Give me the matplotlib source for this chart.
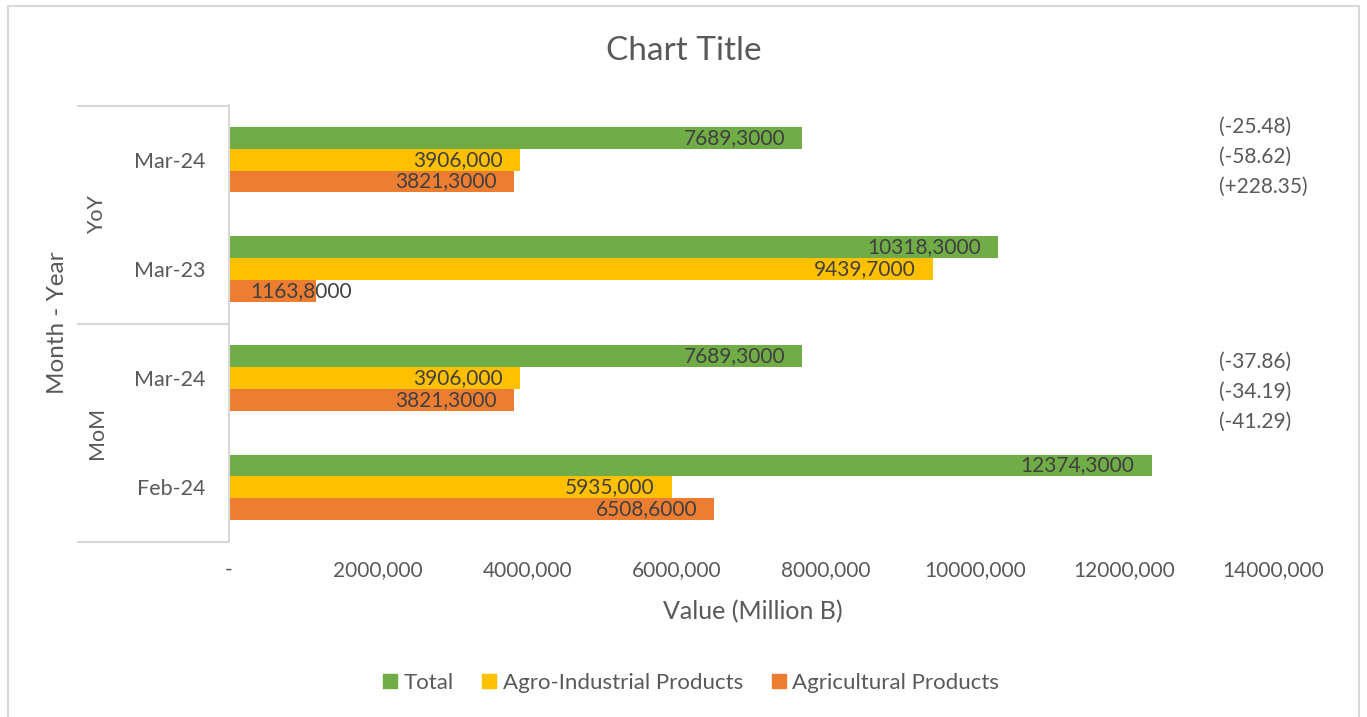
import matplotlib.pyplot as plt
from matplotlib.lines import Line2D
from matplotlib.patches import Patch

plt.rcParams['font.family'] = ['Lato', 'DejaVu Sans']

W, H = 1367, 717

# categories, bottom to top
categories = ['Feb-24', 'Mar-24', 'Mar-23', 'Mar-24']
groups = ['MoM', 'YoY']

total = [12374.3, 7689.3, 10318.3, 7689.3]
agro = [5935.0, 3906.0, 9439.7, 3906.0]
agri = [6508.6, 3821.3, 1163.8, 3821.3]

total_lbl = ['12374,3000', '7689,3000', '10318,3000', '7689,3000']
agro_lbl = ['5935,000', '3906,000', '9439,7000', '3906,000']
agri_lbl = ['6508,6000', '3821,3000', '1163,8000', '3821,3000']

xticks = [0, 2000, 4000, 6000, 8000, 10000, 12000, 14000]
xtick_lbl = ['-', '2000,000', '4000,000', '6000,000', '8000,000',
             '10000,000', '12000,000', '14000,000']

yoy_change = ['(-25.48)', '(-58.62)', '(+228.35)']
mom_change = ['(-37.86)', '(-34.19)', '(-41.29)']

c_total = '#70AD47'
c_agro = '#FFC000'
c_agri = '#ED7D31'
txt = '#595959'
lab = '#404040'
grey = '#D9D9D9'


def fx(x):
    return x / W


def fy(y):
    return 1 - y / H


fig = plt.figure(figsize=(W / 100, H / 100), dpi=100)
ax = fig.add_axes([fx(229), fy(542), fx(1273) - fx(229), fy(105) - fy(542)])

idx = list(range(len(categories)))
bh = 0.2
series = [(total, total_lbl, c_total, bh, 'Total'),
          (agro, agro_lbl, c_agro, 0, 'Agro-Industrial Products'),
          (agri, agri_lbl, c_agri, -bh, 'Agricultural Products')]

for vals, lbls, col, off, name in series:
    ys = [i + off for i in idx]
    ax.barh(ys, vals, height=bh, color=col, label=name)
    for y, v, s in zip(ys, vals, lbls):
        if v < 2000:
            ax.text(280, y, s, ha='left', va='center', fontsize=15, color=lab)
        else:
            ax.text(v - 230, y, s, ha='right', va='center', fontsize=15, color=lab)

ax.set_xlim(0, 14000)
ax.set_ylim(-0.5, 3.5)
ax.set_xticks(xticks, xtick_lbl)
ax.set_yticks(idx, categories)
ax.tick_params(axis='x', length=0, pad=13, labelsize=15, labelcolor=txt)
ax.tick_params(axis='y', length=0, pad=17, labelsize=15.5, labelcolor=txt)
for s in ['top', 'right', 'bottom']:
    ax.spines[s].set_visible(False)
ax.spines['left'].set_color(grey)
ax.spines['left'].set_linewidth(1.5)

# multi-level category axis
for y in [106, 324, 542]:
    fig.add_artist(Line2D([fx(78), fx(229)], [fy(y), fy(y)], color=grey, lw=1.5))
fig.text(fx(97), fy(433), groups[0], rotation=90, ha='center', va='center',
         fontsize=15.5, color=txt)
fig.text(fx(97), fy(215), groups[1], rotation=90, ha='center', va='center',
         fontsize=15.5, color=txt)
fig.text(fx(58), fy(323), 'Month - Year', rotation=90, ha='center', va='center',
         fontsize=17.5, color=txt)

fig.text(fx(684), fy(51), 'Chart Title', ha='center', va='center',
         fontsize=24, color=txt)
fig.text(fx(753), fy(612), 'Value (Million B)', ha='center', va='center',
         fontsize=18, color=txt)

for i, s in enumerate(yoy_change):
    fig.text(fx(1219), fy(127 + 30 * i), s, ha='left', va='center',
             fontsize=15, color=txt)
for i, s in enumerate(mom_change):
    fig.text(fx(1219), fy(362 + 30 * i), s, ha='left', va='center',
             fontsize=15, color=txt)

handles = [Patch(color=c_total), Patch(color=c_agro), Patch(color=c_agri)]
fig.legend(handles, ['Total', 'Agro-Industrial Products', 'Agricultural Products'],
           loc='center', bbox_to_anchor=(fx(691), fy(683)), ncol=3,
           frameon=False, fontsize=16, handlelength=0.62, handleheight=0.62,
           handletextpad=0.3, columnspacing=1.3, labelcolor=txt)

# chart border
fig.add_artist(Line2D([fx(8), fx(1359)], [fy(6), fy(6)], color=grey, lw=1.5))
fig.add_artist(Line2D([fx(8), fx(8)], [fy(6), 0], color=grey, lw=1.5))
fig.add_artist(Line2D([fx(1359), fx(1359)], [fy(6), 0], color=grey, lw=1.5))

fig.savefig('out.png', dpi=100)
